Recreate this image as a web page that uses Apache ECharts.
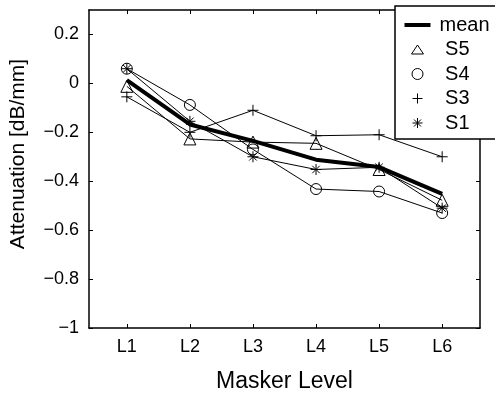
<!DOCTYPE html>
<html>
<head>
<meta charset="utf-8">
<script src="https://cdn.jsdelivr.net/npm/echarts@6/dist/echarts.min.js"></script>
<style>
  html, body { margin: 0; padding: 0; background: #fff; }
  #chart { width: 495px; height: 398px; }
</style>
</head>
<body>
<div id="chart"></div>
<script>
// masker levels (x positions 1..6)
const levels = ['L1', 'L2', 'L3', 'L4', 'L5', 'L6'];
const xTicks = [1, 2, 3, 4, 5, 6];
const yTicks = [-1, -0.8, -0.6, -0.4, -0.2, 0, 0.2];

// attenuation values
const meanVals = [0.013, -0.168, -0.235, -0.312, -0.342, -0.452];
const s5Vals = [-0.012, -0.227, -0.24, -0.245, -0.352, -0.478];
const s4Vals = [0.06, -0.088, -0.27, -0.432, -0.442, -0.53];
const s3Vals = [-0.055, -0.2, -0.11, -0.214, -0.21, -0.3];
const s1Vals = [0.06, -0.155, -0.3, -0.352, -0.343, -0.51];

const FONT = 'Liberation Sans';
const PLUS = 'path://M5,0L5,10M0,5L10,5';
const STAR = 'path://M5,0L5,10M0,5L10,5M1.6,1.6L8.4,8.4M8.4,1.6L1.6,8.4';
// legend icons: invisible M points pin the box to itemWidth x itemHeight
const L_TRI = 'path://M0,0M26,14M13,2.5L19,11.5L7,11.5Z';
const L_CIR = 'path://M0,0M26,14M18.5,7A5.5,5.5,0,1,1,7.5,7A5.5,5.5,0,1,1,18.5,7Z';
const L_PLUS = 'path://M0,0M26,14M13,2L13,12M8,7L18,7';
const L_STAR = 'path://M0,0M26,14M13,2L13,12M8,7L18,7M9.5,3.5L16.5,10.5M16.5,3.5L9.5,10.5';
const L_LINE = 'path://M0,0M26,14M0,5L26,5L26,9L0,9Z';

const toPts = vals => vals.map((v, i) => [xTicks[i], v]);
const fmtY = v => {
  if (Math.abs(v) < 1e-9) return '0';
  return (v < 0 ? '\u2212' : '') + String(Math.abs(v));
};

const hollow = { color: 'rgba(0,0,0,0)', borderColor: '#000', borderWidth: 1 };
const axisBlack = { color: '#000', width: 1.5 };

function subject(name, vals, symbol, size) {
  return {
    name: name,
    type: 'line',
    data: toPts(vals),
    symbol: symbol,
    symbolSize: size,
    showAllSymbol: true,
    lineStyle: { color: '#000', width: 1 },
    itemStyle: hollow,
    emphasis: { disabled: true },
    z: 2
  };
}

function frameX(extra) {
  return Object.assign({
    type: 'value',
    min: 0.4,
    max: 6.6,
    axisLine: { show: true, onZero: false, lineStyle: axisBlack },
    axisTick: { show: true, inside: true, length: 4, customValues: xTicks, lineStyle: { color: '#000' } },
    splitLine: { show: false }
  }, extra);
}

function frameY(extra) {
  return Object.assign({
    type: 'value',
    min: -1,
    max: 0.3,
    axisLine: { show: true, onZero: false, lineStyle: axisBlack },
    axisTick: { show: true, inside: true, length: 4, customValues: yTicks, lineStyle: { color: '#000' } },
    splitLine: { show: false }
  }, extra);
}

const chart = echarts.init(document.getElementById('chart'));
chart.setOption({
  animation: false,
  textStyle: { fontFamily: FONT, color: '#000' },
  grid: { left: 83, top: 10, right: 15, bottom: 59 },
  legend: {
    orient: 'vertical',
    left: 395,
    top: 6,
    width: 140,
    padding: [9, 60, 6, 9],
    itemGap: 4.5,
    itemWidth: 26,
    itemHeight: 14,
    backgroundColor: '#fff',
    borderColor: '#000',
    borderWidth: 1.5,
    textStyle: { fontFamily: FONT, fontSize: 20, color: '#000', padding: [0, 0, 0, 4] },
    formatter: n => n === 'mean' ? n : ' ' + n,
    selectedMode: false,
    data: [
      { name: 'mean', icon: L_LINE, itemStyle: { color: '#000', borderWidth: 0 } },
      { name: 'S5', icon: L_TRI, itemStyle: hollow },
      { name: 'S4', icon: L_CIR, itemStyle: hollow },
      { name: 'S3', icon: L_PLUS, itemStyle: hollow },
      { name: 'S1', icon: L_STAR, itemStyle: hollow }
    ]
  },
  xAxis: [
    frameX({
      name: 'Masker Level',
      nameLocation: 'middle',
      nameGap: 42,
      nameTextStyle: { fontSize: 23, color: '#000', fontFamily: FONT },
      axisLabel: {
        customValues: xTicks,
        formatter: v => levels[Math.round(v) - 1],
        fontSize: 18, color: '#000', margin: 10
      }
    }),
    frameX({ position: 'top', axisLabel: { show: false } })
  ],
  yAxis: [
    frameY({
      name: 'Attenuation [dB/mm]',
      nameLocation: 'middle',
      nameGap: 60,
      nameTextStyle: { fontSize: 21, color: '#000', fontFamily: FONT, padding: [0, 0, 0, 30] },
      axisLabel: { customValues: yTicks, formatter: fmtY, fontSize: 18, color: '#000', margin: 10 }
    }),
    frameY({ position: 'right', axisLabel: { show: false } })
  ],
  series: [
    subject('S5', s5Vals, 'triangle', 12),
    subject('S4', s4Vals, 'circle', 11),
    subject('S3', s3Vals, PLUS, 11),
    subject('S1', s1Vals, STAR, 11),
    {
      name: 'mean',
      type: 'line',
      data: toPts(meanVals),
      symbol: 'none',
      lineStyle: { color: '#000', width: 4 },
      itemStyle: { color: '#000' },
      emphasis: { disabled: true },
      z: 3
    }
  ]
});
</script>
</body>
</html>
